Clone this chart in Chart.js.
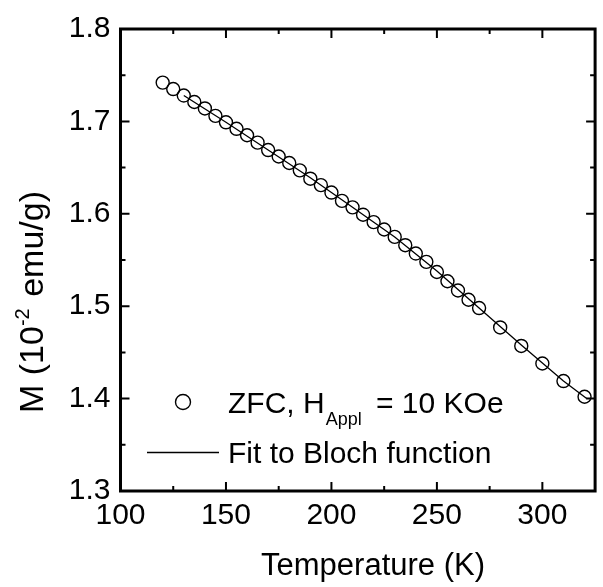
<!DOCTYPE html>
<html>
<head>
<meta charset="utf-8">
<script src="https://cdn.jsdelivr.net/npm/chart.js@4"></script>
<style>
  body { margin: 0; background: #fff; }
  #wrap { width: 603px; height: 587px; }
</style>
</head>
<body>
<div id="wrap"><canvas id="chart" width="603" height="587"></canvas></div>
<script>
// measured points (ZFC, 10 KOe)
const temps = [120, 125, 130, 135, 140, 145, 150, 155, 160, 165, 170, 175, 180, 185, 190, 195, 200,
	205, 210, 215, 220, 225, 230, 235, 240, 245, 250, 255, 260, 265, 270, 280, 290, 300, 310, 320];
const moment = [1.742, 1.735, 1.728, 1.721, 1.714, 1.706, 1.699, 1.692, 1.685, 1.677, 1.669, 1.662, 1.655, 1.647, 1.638, 1.631, 1.623,
	1.614, 1.607, 1.599, 1.591, 1.583, 1.575, 1.566, 1.557, 1.548, 1.537, 1.527, 1.517, 1.507, 1.498, 1.477, 1.457, 1.438, 1.419, 1.402];

// Bloch fit curve
const fitT = [130, 150, 170, 190, 210, 230, 250, 270, 290, 310, 321];
const fitM = [1.728, 1.699, 1.669, 1.639, 1.607, 1.575, 1.538, 1.498, 1.458, 1.419, 1.400];

const xMajor = [100, 150, 200, 250, 300];
const xMinor = [125, 175, 225, 275];
const yMajor = [1.3, 1.4, 1.5, 1.6, 1.7, 1.8];
const yMinor = [1.35, 1.45, 1.55, 1.65, 1.75];

const FONT = "'Liberation Sans', Arial, sans-serif";

const points = temps.map((t, i) => ({ x: t, y: moment[i] }));
const fit = fitT.map((t, i) => ({ x: t, y: fitM[i] }));

// frame, inward ticks, axis titles and legend
const decor = {
	id: 'decor',
	afterDraw(chart) {
		const ctx = chart.ctx;
		const a = chart.chartArea;
		const x = chart.scales.x;
		const y = chart.scales.y;
		ctx.save();
		ctx.strokeStyle = '#000';
		ctx.lineWidth = 2;
		const tickX = (v, len) => {
			const px = x.getPixelForValue(v);
			ctx.beginPath();
			ctx.moveTo(px, a.bottom); ctx.lineTo(px, a.bottom - len);
			ctx.moveTo(px, a.top); ctx.lineTo(px, a.top + len);
			ctx.stroke();
		};
		const tickY = (v, len) => {
			const py = y.getPixelForValue(v);
			ctx.beginPath();
			ctx.moveTo(a.left, py); ctx.lineTo(a.left + len, py);
			ctx.moveTo(a.right, py); ctx.lineTo(a.right - len, py);
			ctx.stroke();
		};
		xMajor.forEach(v => tickX(v, 9));
		xMinor.forEach(v => tickX(v, 5));
		yMajor.forEach(v => tickY(v, 9));
		yMinor.forEach(v => tickY(v, 5));
		ctx.lineWidth = 3;
		ctx.strokeRect(a.left, a.top, a.right - a.left, a.bottom - a.top);

		ctx.fillStyle = '#000';
		ctx.textBaseline = 'alphabetic';

		// x title
		ctx.font = '31px ' + FONT;
		ctx.textAlign = 'center';
		ctx.fillText('Temperature (K)', 373, 575);

		// y title with superscript
		ctx.save();
		ctx.translate(43, 302);
		ctx.rotate(-Math.PI / 2);
		ctx.textAlign = 'left';
		const big = '34px ' + FONT, small = '20px ' + FONT;
		const parts = [['M (10', big, 0, 0], ['-2', small, -14, 2], [' emu/g)', big, 0, 0]];
		let total = 0;
		parts.forEach(p => { ctx.font = p[1]; total += ctx.measureText(p[0]).width + p[3]; });
		let cx = -total / 2;
		parts.forEach(p => { ctx.font = p[1]; ctx.fillText(p[0], cx, p[2]); cx += ctx.measureText(p[0]).width + p[3]; });
		ctx.restore();

		// legend
		ctx.lineWidth = 1.4;
		ctx.beginPath();
		ctx.arc(183, 402, 7.5, 0, Math.PI * 2);
		ctx.stroke();
		ctx.lineWidth = 1.3;
		ctx.beginPath();
		ctx.moveTo(147, 452.5); ctx.lineTo(219, 452.5);
		ctx.stroke();

		ctx.textAlign = 'left';
		let lx = 228;
		const leg = [['ZFC, H', '30px ' + FONT, 0, 1], ['Appl', '18px ' + FONT, 12, 6], [' = 10 KOe', '30px ' + FONT, 0, 0]];
		leg.forEach(p => { ctx.font = p[1]; ctx.fillText(p[0], lx, 413 + p[2]); lx += ctx.measureText(p[0]).width + p[3]; });
		ctx.font = '30px ' + FONT;
		ctx.fillText('Fit to Bloch function', 228, 463);
		ctx.restore();
	}
};

new Chart(document.querySelector('#chart'), {
	type: 'scatter',
	data: {
		datasets: [{
			label: 'Fit to Bloch function',
			data: fit,
			showLine: true,
			borderColor: '#000',
			borderWidth: 1.3,
			pointRadius: 0,
			tension: 0
		}, {
			label: 'ZFC',
			data: points,
			showLine: false,
			pointStyle: 'circle',
			pointRadius: 6.5,
			pointBorderWidth: 1.4,
			pointBorderColor: '#000',
			pointBackgroundColor: 'rgba(0,0,0,0)'
		}]
	},
	options: {
		responsive: false,
		animation: false,
		events: [],
		layout: { padding: { left: 0, top: 29, right: 1.5, bottom: 0 } },
		plugins: { legend: { display: false }, tooltip: { enabled: false } },
		scales: {
			x: {
				type: 'linear',
				min: 100,
				max: 325,
				border: { display: false },
				grid: { display: false, drawTicks: false },
				afterFit: s => { s.height = 96; },
				ticks: {
					stepSize: 50,
					includeBounds: false,
					padding: 7,
					color: '#000',
					font: { family: FONT, size: 30 },
					maxRotation: 0,
					callback: v => (v % 50 === 0 ? v : '')
				}
			},
			y: {
				type: 'linear',
				min: 1.3,
				max: 1.8,
				border: { display: false },
				grid: { display: false, drawTicks: false },
				afterFit: s => { s.width = 120.5; },
				ticks: {
					stepSize: 0.1,
					padding: 10,
					color: '#000',
					font: { family: FONT, size: 30 },
					callback: v => v.toFixed(1)
				}
			}
		}
	},
	plugins: [decor]
});
</script>
</body>
</html>
